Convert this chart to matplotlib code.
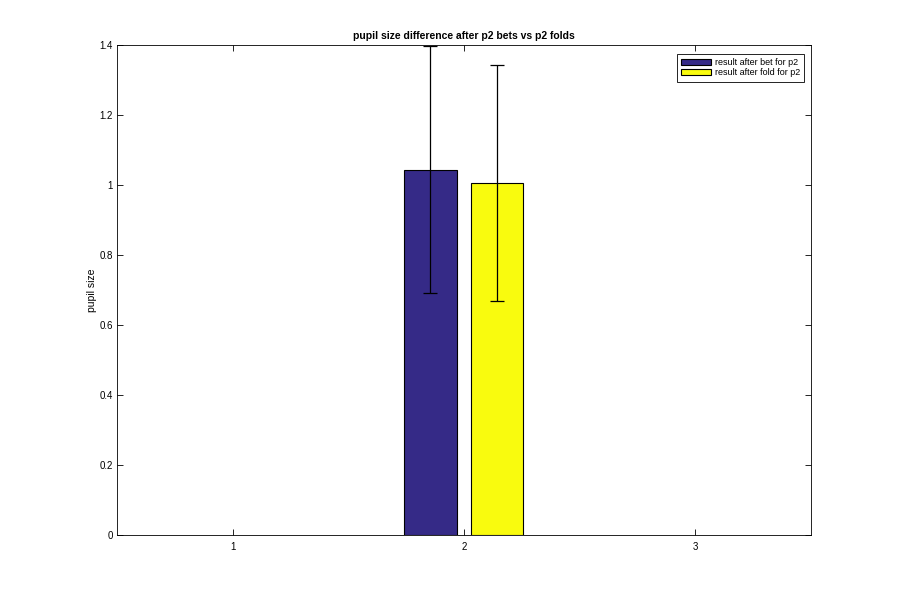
import numpy as np
import matplotlib
matplotlib.use('Agg')
import matplotlib.pyplot as plt

plt.rcParams['font.family'] = ['Liberation Sans', 'DejaVu Sans']

groups = [1, 2, 3]
series_names = ['result after bet for p2', 'result after fold for p2']
series_group = 2
bet_mean = 1.044
bet_err = 0.353
fold_mean = 1.005
fold_err = 0.337
colors = ['#352a87', '#f9fb0e']


def main():
    fig = plt.figure(figsize=(8.97, 6.02), dpi=100)
    ax = fig.add_axes([0.1304, 0.1113, 0.7737, 0.8139])

    width = 0.228
    offsets = [-0.146, 0.143]
    means = [bet_mean, fold_mean]
    errs = [bet_err, fold_err]
    for i in range(2):
        ax.bar(series_group + offsets[i], means[i], width=width, color=colors[i],
               edgecolor='black', linewidth=0.8, label=series_names[i], zorder=2)
        ax.errorbar(series_group + offsets[i], means[i], yerr=errs[i], fmt='none',
                    ecolor='black', elinewidth=0.9, capsize=5, capthick=0.9, zorder=3)

    ax.set_xlim(0.5, 3.5)
    ax.set_ylim(0, 1.4)
    ax.set_xticks(groups)
    ax.set_yticks(np.arange(0, 1.41, 0.2))
    ax.set_yticklabels(['0', '0.2', '0.4', '0.6', '0.8', '1', '1.2', '1.4'])
    ax.tick_params(direction='in', top=True, right=True, labelsize=7, length=4, width=0.6)
    ax.tick_params(axis='x', pad=5)
    ax.tick_params(axis='y', pad=3)
    for s in ax.spines.values():
        s.set_linewidth(0.6)

    ax.set_title('pupil size difference after p2 bets vs p2 folds', fontsize=7.5,
                 fontweight='bold', pad=4)
    ax.set_ylabel('pupil size', fontsize=7.5, labelpad=2)

    leg = ax.legend(loc='upper right', fontsize=6.5, fancybox=False, framealpha=1,
                    edgecolor='black', handlelength=3.3, handleheight=0.6,
                    borderpad=0.45, labelspacing=0.15, handletextpad=0.4,
                    borderaxespad=0, bbox_to_anchor=(0.99, 0.9816))
    leg.get_frame().set_linewidth(0.6)

    fig.savefig('out.png', dpi=100)


if __name__ == "__main__":
    main()
